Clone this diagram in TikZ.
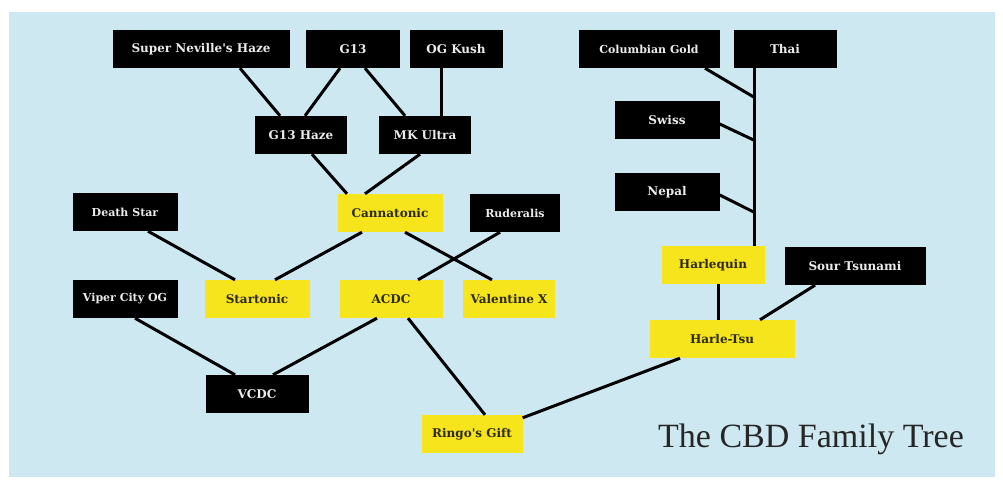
\documentclass[tikz,border=0pt]{standalone}
\usepackage{fontspec}
\setmainfont{Liberation Serif}
\newfontfamily\labelfont{DejaVu Serif}
\definecolor{cbdblue}{HTML}{CDE8F1}
\definecolor{cbdyellow}{HTML}{F6E51C}
\definecolor{cbdtext}{HTML}{2E2A18}
\begin{document}
\begin{tikzpicture}[x=1pt,y=-1pt,
  strain/.style={fill=black,text=white!92!black,font=\labelfont\bfseries\fontsize{12}{14}\selectfont,minimum height=38pt,inner sep=2pt},
  hybrid/.style={fill=cbdyellow,text=cbdtext,font=\labelfont\bfseries\fontsize{12}{14}\selectfont,minimum height=38pt,inner sep=2pt},
  small/.style={font=\labelfont\bfseries\fontsize{11}{13}\selectfont},
  link/.style={line width=3pt}]
\useasboundingbox (0,0) rectangle (1003,481);
\fill[white] (0,0) rectangle (1003,481);
\fill[cbdblue] (9,12) rectangle (995,477);
% parents
\node[strain,minimum width=177pt] (snh) at (201,49) {Super Neville's Haze};
\node[strain,minimum width=94pt] (gt) at (353,49) {G13};
\node[strain,minimum width=93pt] (ogk) at (456,49) {OG Kush};
\node[strain,small,minimum width=141pt] (col) at (649,49) {Columbian Gold};
\node[strain,minimum width=103pt] (thai) at (785,49) {Thai};
\node[strain,minimum width=92pt] (gth) at (301,135) {G13 Haze};
\node[strain,minimum width=92pt] (mku) at (425,135) {MK Ultra};
\node[strain,minimum width=105pt] (swiss) at (667,120) {Swiss};
\node[strain,minimum width=105pt] (nepal) at (667,192) {Nepal};
\node[strain,small,minimum width=105pt] (dstar) at (125,212) {Death Star};
\node[strain,small,minimum width=90pt] (rud) at (515,213) {Ruderalis};
\node[strain,minimum width=141pt] (sour) at (855,266) {Sour Tsunami};
\node[strain,small,minimum width=105pt] (viper) at (125,299) {Viper City OG};
\node[strain,minimum width=103pt] (vcdc) at (257,394) {VCDC};
% cbd strains
\node[hybrid,minimum width=105pt] (canna) at (390,213) {Cannatonic};
\node[hybrid,minimum width=103pt] (harl) at (713,265) {Harlequin};
\node[hybrid,minimum width=105pt] (start) at (257,299) {Startonic};
\node[hybrid,minimum width=103pt] (acdc) at (391,299) {ACDC};
\node[hybrid,minimum width=92pt] (valx) at (509,299) {Valentine X};
\node[hybrid,minimum width=145pt] (htsu) at (722,339) {Harle-Tsu};
\node[hybrid,minimum width=101pt] (ringo) at (472,434) {Ringo's Gift};
\node[font=\fontsize{34}{40}\selectfont,text=black!85] (title) at (811,439) {The CBD Family Tree};
% links
\draw[link] ([xshift=39pt]snh.south) -- ([xshift=-21pt]gth.north);
\draw[link] ([xshift=-13pt]gt.south) -- ([xshift=4pt]gth.north);
\draw[link] ([xshift=12pt]gt.south) -- ([xshift=-20pt]mku.north);
\draw[link] ([xshift=-15pt]ogk.south) -- ([xshift=-15pt]ogk.south |- mku.north);
\draw[link] ([xshift=11pt]gth.south) -- ([xshift=-43pt]canna.north);
\draw[link] ([xshift=-5pt]mku.south) -- ([xshift=-25pt]canna.north);
\draw[link] ([xshift=-28pt]canna.south) -- ([xshift=18pt]start.north);
\draw[link] ([xshift=23pt]dstar.south) -- ([xshift=-22pt]start.north);
\draw[link] ([xshift=15pt]canna.south) -- ([xshift=-17pt]valx.north);
\draw[link] ([xshift=-15pt]rud.south) -- ([xshift=27pt]acdc.north);
\draw[link] ([xshift=10pt]viper.south) -- ([xshift=-22pt]vcdc.north);
\draw[link] ([xshift=-14pt]acdc.south) -- ([xshift=16pt]vcdc.north);
\draw[link] ([xshift=17pt]acdc.south) -- ([xshift=13pt]ringo.north);
\draw[link] ([xshift=-42pt]htsu.south) -- ([yshift=-3pt]ringo.north east);
\draw[link] ([xshift=5pt]harl.south) -- ([xshift=5pt]harl.south |- htsu.north);
\draw[link] ([xshift=-40pt]sour.south) -- ([xshift=38pt]htsu.north);
% landrace trunk
\coordinate (trunk) at ([xshift=-31pt]thai.south);
\draw[link] (trunk) -- (trunk |- harl.north);
\coordinate (j1) at ([yshift=-29pt]trunk);
\coordinate (j2) at ([yshift=-72pt]trunk);
\coordinate (j3) at ([yshift=-144pt]trunk);
\draw[link] ([xshift=56pt]col.south) -- (j1);
\draw[link] ([yshift=-4pt]swiss.east) -- (j2);
\draw[link] ([yshift=-3pt]nepal.east) -- (j3);
\end{tikzpicture}
\end{document}
